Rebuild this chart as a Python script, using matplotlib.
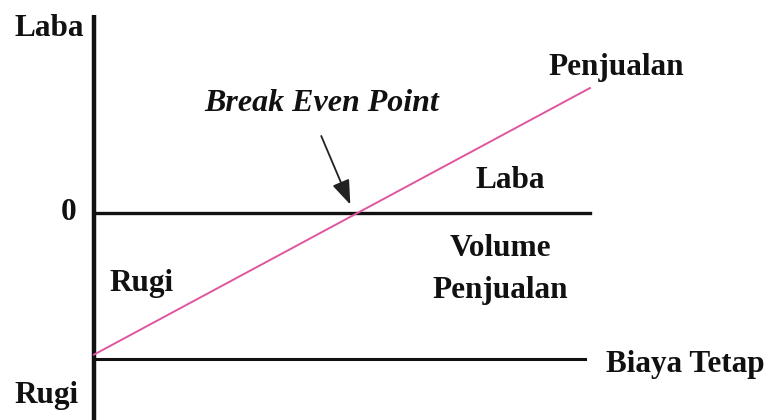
import matplotlib
matplotlib.use("Agg")
from matplotlib import pyplot as plt

# volume penjualan (0..100) and laba/rugi (0 = titik impas)
volume = [0, 100]
laba_penjualan = [-97, 85.6]
biaya_tetap = [-100, -100]
garis_nol = [0, 0]
bep_x, bep_y = 53.1, 0

fig = plt.figure(figsize=(7.71, 4.20), dpi=100)
ax = fig.add_axes([0, 0, 1, 1])
ax.set_xlim(-18.95, 136.5)
ax.set_ylim(-141.8, 145.9)
ax.axis("off")

font = dict(family="Liberation Serif", fontweight="bold", fontsize=22.5, color="#111111")

# sumbu vertikal
ax.plot([0, 0], [-141.8, 135.6], color="#111111", lw=3.2, solid_capstyle="butt")
ax.plot(volume, garis_nol, color="#111111", lw=2.4)
ax.plot([0, 99], biaya_tetap, color="#111111", lw=2.2)
ax.plot(volume, laba_penjualan, color="#e0559f", lw=1.4)

ax.annotate("", xy=(bep_x - 1.2, bep_y + 4), xytext=(bep_x - 7.5, bep_y + 54.5),
            arrowprops=dict(arrowstyle="-|>,head_length=1.5,head_width=0.55",
                            color="#222222", lw=1.3))

ax.text(-9, 121, "Laba", ha="center", va="baseline", **font)
ax.text(-5.2, 0, "0", ha="center", va="center", **font)
ax.text(-9.5, -130, "Rugi", ha="center", va="baseline", **font)
ax.text(9.5, -48, "Rugi", ha="center", va="center", **font)
ax.text(84, 22.5, "Laba", ha="center", va="center", **font)
ax.text(82, -24, "Volume", ha="center", va="center", **font)
ax.text(82, -53, "Penjualan", ha="center", va="center", **font)
ax.text(105.2, 94.5, "Penjualan", ha="center", va="baseline", **font)
ax.text(119.3, -109, "Biaya Tetap", ha="center", va="baseline", **font)
ax.text(46, 70, "Break Even Point", ha="center", va="baseline",
        family="Liberation Serif", fontweight="bold", style="italic",
        fontsize=23, color="#111111")

fig.savefig("out.png", dpi=100, facecolor="white")
